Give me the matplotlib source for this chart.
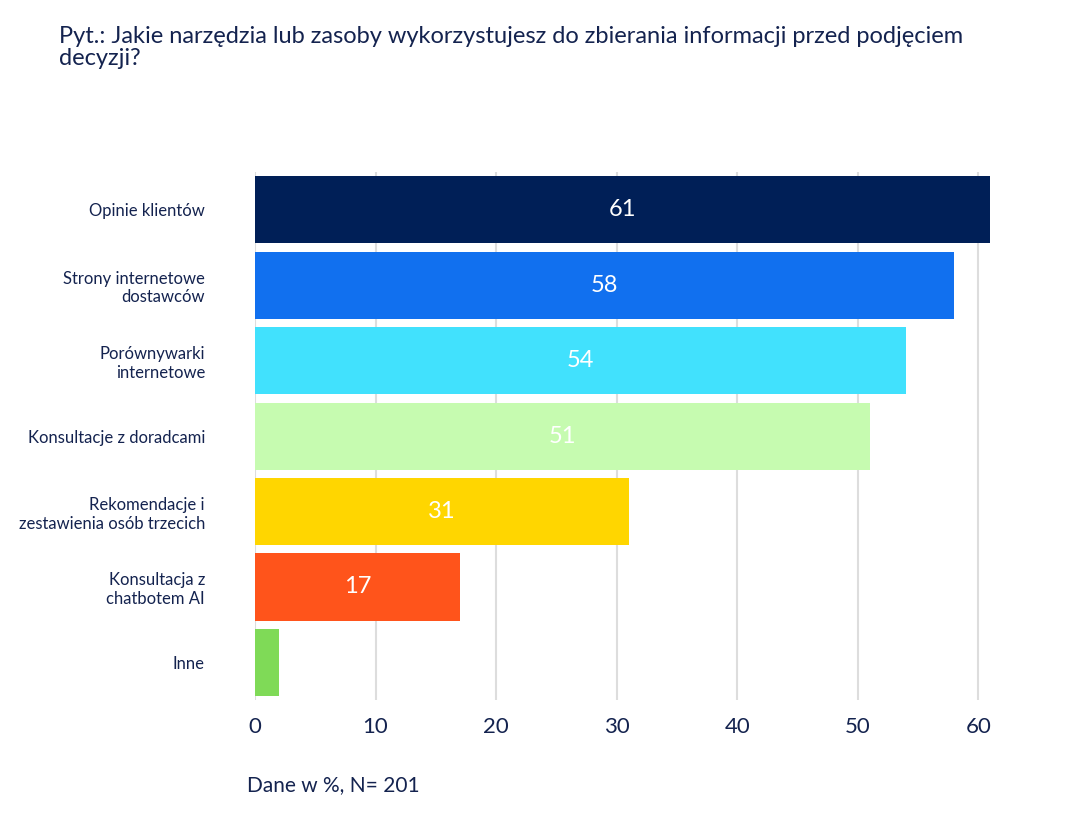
import matplotlib
matplotlib.use("Agg")
import matplotlib.pyplot as plt

plt.rcParams["font.family"] = "Lato"

categories = ["Opinie klientów", "Strony internetowe\ndostawców", "Porównywarki\ninternetowe",
              "Konsultacje z doradcami", "Rekomendacje i\nzestawienia osób trzecich",
              "Konsultacja z\nchatbotem AI", "Inne"]
values = [61, 58, 54, 51, 31, 17, 2]
shown = ["61", "58", "54", "51", "31", "17", ""]
colors = ["#001f57", "#1170ef", "#41e1fd", "#c6fbb0", "#ffd600", "#ff541b", "#7fda57"]
ticks = [0, 10, 20, 30, 40, 50, 60]

NAVY = "#14234f"

fig = plt.figure(figsize=(10.74, 8.16), dpi=100)
ax = fig.add_axes([0.2374, 0.142, 0.696, 0.647])

ypos = list(range(len(values)))
ax.barh(ypos, values, height=0.89, color=colors, zorder=3)
for y, v, s in zip(ypos, values, shown):
    ax.text(v / 2, y, s, ha="center", va="center", color="white",
            fontsize=17, zorder=4)

ax.set_ylim(len(values) - 0.5, -0.5)
ax.set_xlim(0, 62)
ax.set_yticks(ypos)
ax.set_yticklabels(categories, fontsize=12, color=NAVY, ha="right")
ax.set_xticks(ticks)
ax.set_xticklabels([str(t) for t in ticks], fontsize=16, color=NAVY)
ax.tick_params(axis="both", length=0, pad=12)
ax.tick_params(axis="y", pad=36)
ax.grid(axis="x", color="#dddddd", lw=1.5, zorder=0)
for s in ax.spines.values():
    s.set_visible(False)

fig.text(0.055, 0.915, "Pyt.: Jakie narzędzia lub zasoby wykorzystujesz do zbierania informacji przed podjęciem\ndecyzji?",
         fontsize=17, color=NAVY, va="bottom", linespacing=1.1)
fig.text(0.23, 0.03, "Dane w %, N= 201", fontsize=15, color=NAVY)

fig.savefig("out.png", dpi=100)
